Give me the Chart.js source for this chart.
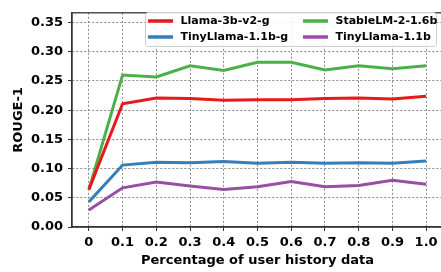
<!DOCTYPE html>
<html>
<head>
<meta charset="utf-8">
<script src="https://cdn.jsdelivr.net/npm/chart.js@4/dist/chart.umd.min.js"></script>
<style>
  html, body { margin: 0; padding: 0; background: #fff; overflow: hidden; }
  #wrap { width: 441px; height: 272px; overflow: hidden; }
</style>
</head>
<body>
<div id="wrap"><canvas id="rougeChart" width="443" height="272"></canvas></div>
<script>
const xLabels = ["0", "0.1", "0.2", "0.3", "0.4", "0.5", "0.6", "0.7", "0.8", "0.9", "1.0"];
const seriesNames = ["Llama-3b-v2-g", "StableLM-2-1.6b", "TinyLlama-1.1b-g", "TinyLlama-1.1b"];
const llama3bG = [0.064, 0.211, 0.221, 0.220, 0.217, 0.218, 0.218, 0.220, 0.221, 0.219, 0.224];
const stableLm = [0.064, 0.260, 0.257, 0.276, 0.268, 0.282, 0.282, 0.269, 0.276, 0.271, 0.276];
const tinyLlamaG = [0.043, 0.106, 0.111, 0.110, 0.112, 0.109, 0.111, 0.109, 0.110, 0.109, 0.113];
const tinyLlama = [0.029, 0.067, 0.077, 0.070, 0.064, 0.069, 0.078, 0.069, 0.071, 0.080, 0.073];
const yTicks = [0, 0.05, 0.10, 0.15, 0.20, 0.25, 0.30, 0.35];

const colors = ["#e41a1c", "#4daf4a", "#377eb8", "#984ea3"];
const seriesData = [llama3bG, stableLm, tinyLlamaG, tinyLlama];

const ctx = document.getElementById("rougeChart").getContext("2d");
const fontFam = "'DejaVu Sans', sans-serif";

// frame around the plot area + legend box inside it
const framePlugin = {
    id: "frame",
    afterDraw(chart) {
        const c = chart.ctx;
        const a = chart.chartArea;
        c.save();
        c.setLineDash([]);
        c.strokeStyle = "#333";
        c.lineWidth = 1.3;
        c.strokeRect(a.left, a.top, a.right - a.left, a.bottom - a.top);

        // legend
        const bx = 145.5, by = 12.5, bw = 291, bh = 34;
        c.fillStyle = "rgba(255,255,255,0.85)";
        c.strokeStyle = "#cccccc";
        c.lineWidth = 1;
        c.beginPath();
        c.roundRect(bx, by, bw, bh, 3);
        c.fill();
        c.stroke();

        c.font = "bold 11px " + fontFam;
        c.textBaseline = "middle";
        c.fillStyle = "#000";
        const order = [0, 2, 1, 3]; // column-wise like matplotlib
        const cols = [148, 303];
        const rows = [21, 37];
        chart.data.datasets.forEach((ds, i) => {
            const pos = order[i];
            const col = Math.floor(pos / 2), row = pos % 2;
            const x = cols[col], y = rows[row];
            c.strokeStyle = ds.borderColor;
            c.lineWidth = 3.5;
            c.beginPath();
            c.moveTo(x, y);
            c.lineTo(x + 25, y);
            c.stroke();
            c.fillText(ds.label, x + 32.5, y + 0.5);
        });
        c.restore();
    }
};

const gridOpts = {
    offset: false,
    color: "#8a8a8a",
    lineWidth: 1,
    tickLength: 4,
    tickColor: "#333",
    tickBorderDash: [],
    tickWidth: 1
};

new Chart(ctx, {
    type: "line",
    data: {
        labels: xLabels,
        datasets: seriesNames.map((name, i) => ({
            label: name,
            data: seriesData[i],
            borderColor: colors[i],
            backgroundColor: colors[i],
            borderWidth: 3,
            pointRadius: 0,
            tension: 0,
            fill: false
        }))
    },
    options: {
        responsive: false,
        animation: false,
        layout: { padding: { top: 7, left: 0, right: 0, bottom: 0 } },
        plugins: { legend: { display: false }, tooltip: { enabled: false } },
        scales: {
            x: {
                offset: true,
                afterFit(scale) { scale.height = 45; },
                grid: gridOpts,
                border: { display: true, color: "#333", width: 1.3, dash: [2, 2] },
                ticks: {
                    color: "#000",
                    padding: 4,
                    maxRotation: 0,
                    autoSkip: false,
                    font: { family: fontFam, size: 13, weight: "bold" }
                },
                title: {
                    display: true,
                    text: "Percentage of user history data",
                    color: "#000",
                    padding: { top: 0, bottom: 4 },
                    font: { family: fontFam, size: 13, weight: "bold" }
                }
            },
            y: {
                min: 0,
                max: 0.3667,
                afterFit(scale) { scale.width = 72; },
                afterBuildTicks(scale) { scale.ticks = yTicks.map(v => ({ value: v })); },
                grid: gridOpts,
                border: { display: true, color: "#333", width: 1.3, dash: [2, 2] },
                ticks: {
                    color: "#000",
                    padding: 5,
                    callback: v => Number(v).toFixed(2),
                    font: { family: fontFam, size: 13, weight: "bold" }
                },
                title: {
                    display: true,
                    text: "ROUGE-1",
                    color: "#000",
                    padding: { top: 11, bottom: 0 },
                    font: { family: fontFam, size: 13, weight: "bold" }
                }
            }
        }
    },
    plugins: [framePlugin]
});
</script>
</body>
</html>
